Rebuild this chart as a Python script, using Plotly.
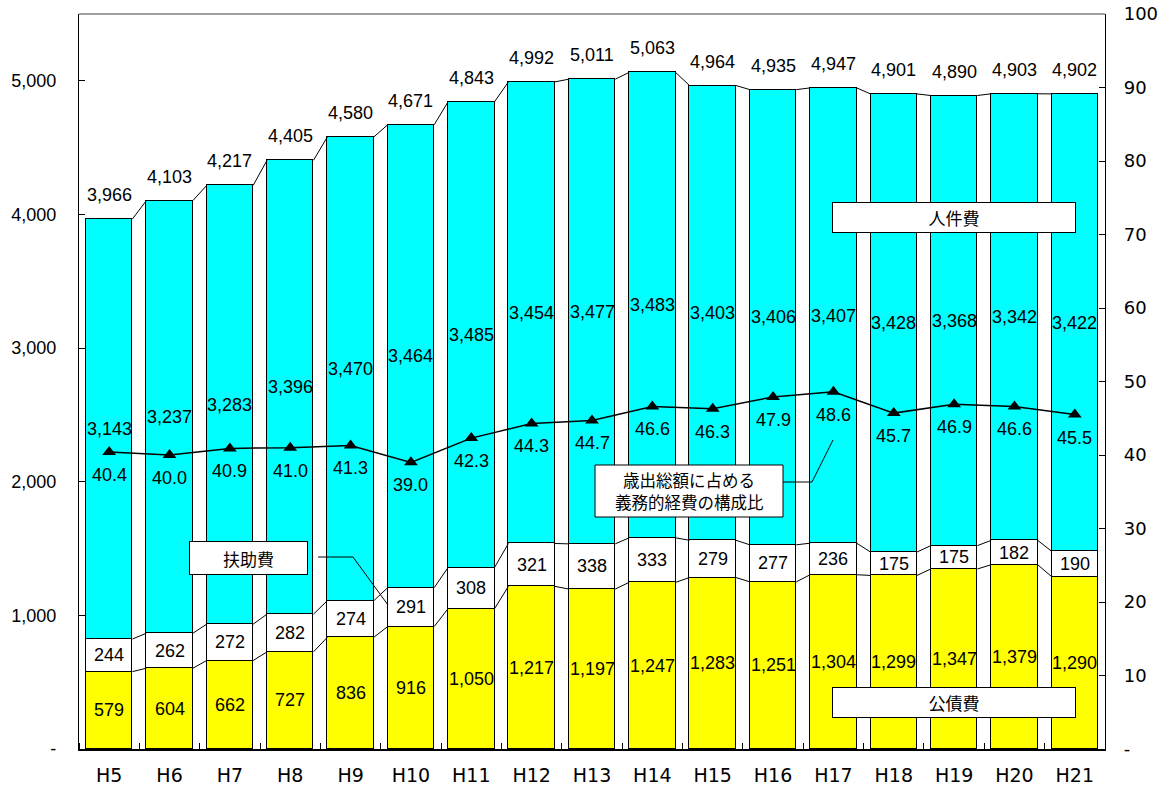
import plotly.graph_objects as go

categories = ["H5", "H6", "H7", "H8", "H9", "H10", "H11", "H12", "H13", "H14",
              "H15", "H16", "H17", "H18", "H19", "H20", "H21"]
kousaihi = [579, 604, 662, 727, 836, 916, 1050, 1217, 1197, 1247, 1283, 1251, 1304, 1299, 1347, 1379, 1290]
fujohi = [244, 262, 272, 282, 274, 291, 308, 321, 338, 333, 279, 277, 236, 175, 175, 182, 190]
jinkenhi = [3143, 3237, 3283, 3396, 3470, 3464, 3485, 3454, 3477, 3483, 3403, 3406, 3407, 3428, 3368, 3342, 3422]
totals = [3966, 4103, 4217, 4405, 4580, 4671, 4843, 4992, 5011, 5063, 4964, 4935, 4947, 4901, 4890, 4903, 4902]
ratio = [40.4, 40.0, 40.9, 41.0, 41.3, 39.0, 42.3, 44.3, 44.7, 46.6, 46.3, 47.9, 48.6, 45.7, 46.9, 46.6, 45.5]
left_ticks = [0, 1000, 2000, 3000, 4000, 5000]
left_ticktext = ["-", "1,000", "2,000", "3,000", "4,000", "5,000"]
right_ticks = [0, 10, 20, 30, 40, 50, 60, 70, 80, 90, 100]
right_ticktext = ["-", "10", "20", "30", "40", "50", "60", "70", "80", "90", "100"]

W, H = 1164, 785
ML, MR, MT, MB = 79, 59, 14, 36
PW, PH = W - ML - MR, H - MT - MB
BW = 0.77
FONT = "Liberation Sans, Arial, sans-serif"
WIDE = "DejaVu Sans, Verdana, sans-serif"
JP = "Noto Sans CJK JP, sans-serif"


def px(x):
    return (x - ML) / PW


def py(y):
    return (MT + PH - y) / PH


xs = list(range(len(categories)))
fig = go.Figure()

for vals, col, name in [(kousaihi, "#FFFF00", "公債費"), (fujohi, "#FFFFFF", "扶助費"), (jinkenhi, "#00FFFF", "人件費")]:
    fig.add_trace(go.Bar(x=xs, y=vals, width=BW, name=name,
                         marker=dict(color=col, line=dict(color="black", width=1.2)),
                         hoverinfo="skip"))

# series lines between bars
lev1 = kousaihi
lev2 = [a + b for a, b in zip(kousaihi, fujohi)]
lev3 = [a + b + c for a, b, c in zip(kousaihi, fujohi, jinkenhi)]
slx, sly = [], []
for lev in (lev1, lev2, lev3):
    for i in range(len(xs) - 1):
        slx += [xs[i] + BW / 2, xs[i + 1] - BW / 2, None]
        sly += [lev[i], lev[i + 1], None]
fig.add_trace(go.Scatter(x=slx, y=sly, mode="lines", line=dict(color="black", width=1),
                         hoverinfo="skip", showlegend=False))

fig.add_trace(go.Scatter(x=xs, y=ratio, yaxis="y2", mode="lines+markers",
                         line=dict(color="black", width=1.5),
                         marker=dict(symbol="triangle-up", size=12, color="black"),
                         hoverinfo="skip", showlegend=False))

ann = []
for i in xs:
    ann.append(dict(x=i, y=totals[i], yref="y", text=f"{totals[i]:,}", showarrow=False,
                    yshift=24, font=dict(family=FONT, size=18, color="black")))
    ann.append(dict(x=i, y=kousaihi[i] / 2, yref="y", text=f"{kousaihi[i]:,}", showarrow=False,
                    font=dict(family=FONT, size=18, color="black")))
    ann.append(dict(x=i, y=kousaihi[i] + fujohi[i] / 2, yref="y", text=f"{fujohi[i]:,}", showarrow=False,
                    font=dict(family=FONT, size=18, color="black")))
    ann.append(dict(x=i, y=lev2[i] + jinkenhi[i] / 2, yref="y", text=f"{jinkenhi[i]:,}", showarrow=False,
                    font=dict(family=FONT, size=18, color="black")))
    ann.append(dict(x=i, y=ratio[i], yref="y2", text=f"{ratio[i]:.1f}", showarrow=False,
                    yshift=-23, font=dict(family=FONT, size=18, color="black")))

boxes = [
    ("人件費", 954, 217.5, 240, 27),
    ("公債費", 954, 702, 240, 27),
    ("扶助費", 248.5, 558, 115, 30),
]
for text, cx, cy, w, h in boxes:
    ann.append(dict(x=px(cx), y=py(cy), xref="paper", yref="paper", text=text, showarrow=False,
                    width=w, height=h, bgcolor="white", bordercolor="black", borderwidth=1, borderpad=1,
                    xanchor="center", yanchor="middle", align="center",
                    font=dict(family=JP, size=17, color="black")))

shapes = []
# two-line caption box for the ratio line
shapes.append(dict(type="rect", xref="paper", yref="paper", x0=px(595), x1=px(783), y0=py(517), y1=py(465),
                   fillcolor="white", line=dict(color="black", width=1), layer="above"))
for text, cy in (("歳出総額に占める", 480), ("義務的経費の構成比", 502)):
    ann.append(dict(x=px(689), y=py(cy), xref="paper", yref="paper", text=text, showarrow=False,
                    xanchor="center", yanchor="middle", borderpad=0,
                    font=dict(family=JP, size=16.5, color="black")))

for pts in ([(318, 557), (353, 557), (388, 605)], [(783, 482), (812, 482), (833, 440)]):
    for (x0, y0), (x1, y1) in zip(pts[:-1], pts[1:]):
        shapes.append(dict(type="line", xref="paper", yref="paper", x0=px(x0), y0=py(y0),
                           x1=px(x1), y1=py(y1), line=dict(color="black", width=1)))
shapes.append(dict(type="line", xref="paper", yref="paper", x0=0, y0=1, x1=1, y1=1,
                   line=dict(color="#808080", width=1.5)))

fig.update_layout(
    width=W, height=H, margin=dict(l=ML, r=MR, t=MT, b=MB, pad=0, autoexpand=False),
    barmode="stack", bargap=0, showlegend=False,
    plot_bgcolor="white", paper_bgcolor="white",
    annotations=ann, shapes=shapes,
    xaxis=dict(range=[-0.5, len(xs) - 0.5], tickvals=xs, ticktext=categories, automargin=False,
               ticks="", showgrid=False, zeroline=False,
               showline=True, linecolor="black", linewidth=2, ticklabelstandoff=8,
               tickfont=dict(family=WIDE, size=19, color="black"),
               minor=dict(tick0=0.5, dtick=1, ticks="inside", ticklen=6, tickcolor="black", showgrid=False)),
    yaxis=dict(range=[0, 5500], tickvals=left_ticks, ticktext=left_ticktext, automargin=False,
               ticks="inside", ticklen=6, tickcolor="black", showgrid=False, zeroline=False,
               showline=True, linecolor="black", linewidth=1.2, ticklabelstandoff=18,
               tickfont=dict(family=FONT, size=18, color="black")),
    yaxis2=dict(range=[0, 100], overlaying="y", side="right", tickvals=right_ticks, ticktext=right_ticktext,
                automargin=False,
                ticks="inside", ticklen=6, tickcolor="black", showgrid=False, zeroline=False,
                showline=True, linecolor="black", linewidth=1.2, ticklabelstandoff=14,
                tickfont=dict(family=WIDE, size=18, color="black")),
)

fig.write_html("out.html", config={"displayModeBar": False},
               post_script="document.body.style.margin='0';document.body.style.overflow='hidden';")
